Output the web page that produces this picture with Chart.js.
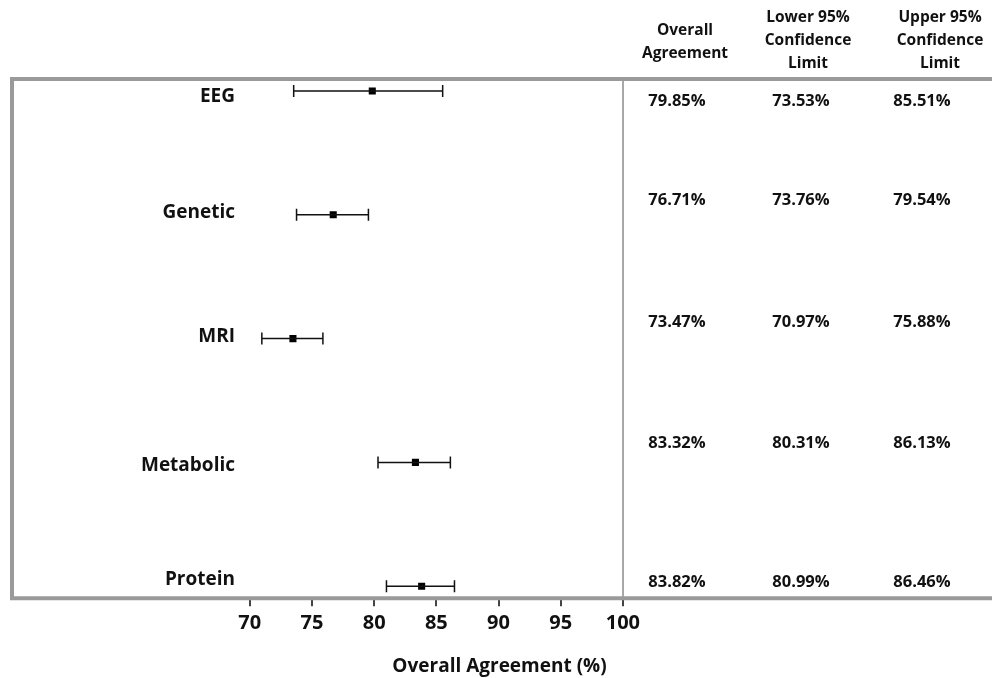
<!DOCTYPE html>
<html>
<head>
<meta charset="utf-8">
<script src="https://cdn.jsdelivr.net/npm/chart.js@4"></script>
<style>
  html, body { margin: 0; padding: 0; background: #fff; }
  #wrap { width: 992px; height: 678px; }
</style>
</head>
<body>
<div id="wrap"><canvas id="forestChart"></canvas></div>
<script>
// data
const categories = ["EEG", "Genetic", "MRI", "Metabolic", "Protein"];
const agreement = [79.85, 76.71, 73.47, 83.32, 83.82];
const lowerCL = [73.53, 73.76, 70.97, 80.31, 80.99];
const upperCL = [85.51, 79.54, 75.88, 86.13, 86.46];
const xTicks = [70, 75, 80, 85, 90, 95, 100];
const tableHeaders = [["Overall", "Agreement"], ["Lower 95%", "Confidence", "Limit"], ["Upper 95%", "Confidence", "Limit"]];

const FONT = "'Open Sans', sans-serif";
const BORDER_GRAY = "#9a9a9a";

// small layout nudges so the text sits like the original
const labelDy = [6, -2, -2, 3, -7];
const rowDy = [10, -15, -16, -19, -4];
const headerX = [685, 808, 940];
const valueX = [677, 801, 922];

const fmt = (v) => v.toFixed(2) + "%";

// error bars, labels, table and frame
const forestPlugin = {
  id: "forest",
  afterDatasetsDraw(chart) {
    const { ctx, chartArea, scales } = chart;
    const x = scales.x, y = scales.y;
    ctx.save();

    // whiskers
    ctx.strokeStyle = "#111";
    ctx.lineWidth = 1.5;
    categories.forEach((c, i) => {
      const py = y.getPixelForValue(i);
      const x1 = x.getPixelForValue(lowerCL[i]);
      const x2 = x.getPixelForValue(upperCL[i]);
      ctx.beginPath();
      ctx.moveTo(x1, py); ctx.lineTo(x2, py);
      ctx.moveTo(x1, py - 6); ctx.lineTo(x1, py + 6);
      ctx.moveTo(x2, py - 6); ctx.lineTo(x2, py + 6);
      ctx.stroke();
    });

    // category names
    ctx.fillStyle = "#111";
    ctx.font = "bold 19px " + FONT;
    ctx.textAlign = "right";
    ctx.textBaseline = "middle";
    categories.forEach((c, i) => {
      ctx.fillText(c, 235, y.getPixelForValue(i) + labelDy[i]);
    });

    // table values
    ctx.font = "bold 16.5px " + FONT;
    ctx.textAlign = "center";
    categories.forEach((c, i) => {
      const py = y.getPixelForValue(i) + rowDy[i];
      ctx.fillText(fmt(agreement[i]), valueX[0], py);
      ctx.fillText(fmt(lowerCL[i]), valueX[1], py);
      ctx.fillText(fmt(upperCL[i]), valueX[2], py);
    });

    // table headers
    ctx.font = "bold 15.5px " + FONT;
    tableHeaders.forEach((lines, j) => {
      const top = lines.length === 2 ? 31 : 18;
      lines.forEach((t, k) => ctx.fillText(t, headerX[j], top + k * 23));
    });

    // frame
    ctx.strokeStyle = BORDER_GRAY;
    ctx.lineWidth = 4;
    ctx.beginPath();
    ctx.moveTo(chartArea.right + 10, chartArea.top);
    ctx.lineTo(chartArea.left, chartArea.top);
    ctx.lineTo(chartArea.left, chartArea.bottom);
    ctx.lineTo(chartArea.right + 10, chartArea.bottom);
    ctx.stroke();
    ctx.restore();
  }
};

new Chart(document.getElementById("forestChart"), {
  type: "scatter",
  data: {
    datasets: [
      {
        label: "Overall Agreement",
        data: agreement.map((v, i) => ({ x: v, y: i })),
        pointStyle: "rect",
        pointRadius: 5,
        pointHoverRadius: 5,
        backgroundColor: "#000",
        borderColor: "#000",
        borderWidth: 0,
      },
    ],
  },
  options: {
    responsive: true,
    maintainAspectRatio: false,
    animation: false,
    layout: { padding: { left: 12, top: 79, right: 0, bottom: 0 } },
    plugins: {
      legend: { display: false },
      tooltip: { enabled: false },
    },
    scales: {
      x: {
        type: "linear",
        min: 50.88,
        max: 129.28,
        afterBuildTicks: (axis) => {
          axis.ticks = xTicks.map((v) => ({ value: v }));
        },
        border: { display: false },
        grid: {
          color: (c) => (c.tick && c.tick.value === 100 ? "#a8a8a8" : "rgba(0,0,0,0)"),
          lineWidth: 2,
          tickColor: "#444",
          tickLength: 8,
        },
        ticks: {
          color: "#111",
          padding: 5,
          font: { family: FONT, size: 20, weight: "bold" },
          maxRotation: 0,
        },
        title: {
          display: true,
          text: "Overall Agreement (%)",
          color: "#111",
          font: { family: FONT, size: 19, weight: "bold" },
          padding: { top: 15, bottom: 0 },
        },
      },
      y: {
        type: "linear",
        display: false,
        reverse: true,
        min: -0.097,
        max: 4.097,
      },
    },
  },
  plugins: [forestPlugin],
});
</script>
</body>
</html>
